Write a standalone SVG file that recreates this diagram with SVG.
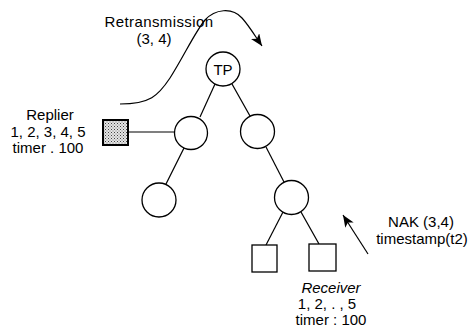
<svg xmlns="http://www.w3.org/2000/svg" width="473" height="329" viewBox="0 0 473 329">
<style>
.n{fill:#fff;stroke:#000;stroke-width:1.3}
.e{stroke:#000;stroke-width:1.2;fill:none}
.t{font-family:"Liberation Sans",Arial,sans-serif;font-size:15px;fill:#000;text-anchor:middle}
.i{font-style:italic}
</style>
<defs>
<pattern id="dots" width="3" height="3" patternUnits="userSpaceOnUse">
<rect width="3" height="3" fill="#e4e4e4"/>
<rect x="0" y="0" width="1" height="1" fill="#444"/>
<rect x="1.5" y="1.5" width="1" height="1" fill="#777"/>
</pattern>
<marker id="ah" markerUnits="userSpaceOnUse" markerWidth="14" markerHeight="12" refX="12" refY="5" orient="auto">
<path d="M0,0 L12,5 L0,10 L3,5 Z" fill="#000"/>
</marker>
</defs>
<g id="connectors">
<line class="e" x1="128" y1="132" x2="175" y2="132"/>
<line class="e" x1="215" y1="84" x2="200" y2="117"/>
<line class="e" x1="232" y1="84" x2="250" y2="116"/>
<line class="e" x1="184" y1="148" x2="166" y2="184"/>
<line class="e" x1="266" y1="147" x2="284" y2="182"/>
<line class="e" x1="283" y1="212" x2="266" y2="245"/>
<line class="e" x1="301" y1="212" x2="319" y2="244"/>
<path class="e" d="M120,104 C150,104 158,96 170,78 C184,56 195,32 205,20 C215,9 232,7 242,18 C250,27 255,36 262,46" marker-end="url(#ah)"/>
<line class="e" x1="368" y1="254" x2="343" y2="215" marker-end="url(#ah)"/>
</g>
<g id="tp">
<circle class="n" cx="223" cy="69" r="17"/>
<text class="t" x="223" y="75">TP</text>
</g>
<g id="n-left"><circle class="n" cx="191" cy="133" r="16.5"/></g>
<g id="n-right"><circle class="n" cx="257.5" cy="131.5" r="17"/></g>
<g id="n-leftleaf"><circle class="n" cx="159" cy="200" r="17"/></g>
<g id="n-rightlow"><circle class="n" cx="291.5" cy="197.5" r="17"/></g>
<g id="replier">
<rect x="103" y="120" width="25" height="25" fill="url(#dots)" stroke="#000" stroke-width="2"/>
<text class="t" x="50" y="120">Replier</text>
<text class="t" x="48" y="137">1, 2, 3, 4, 5</text>
<text class="t" x="48" y="153">timer . 100</text>
</g>
<g id="receiver1"><rect class="n" x="252" y="245" width="25" height="27" stroke-width="1.6"/></g>
<g id="receiver2">
<rect class="n" x="309" y="244" width="27" height="27" stroke-width="1.6"/>
<text class="t i" x="331" y="293">Receiver</text>
<text class="t" x="327" y="309">1, 2, . , 5</text>
<text class="t" x="331" y="325">timer : 100</text>
</g>
<g id="labels">
<text class="t" x="159" y="27" style="letter-spacing:0.4px">Retransmission</text>
<text class="t" x="154" y="44">(3, 4)</text>
<text class="t" x="421" y="227">NAK (3,4)</text>
<text class="t" x="422" y="244">timestamp(t2)</text>
</g>
</svg>
